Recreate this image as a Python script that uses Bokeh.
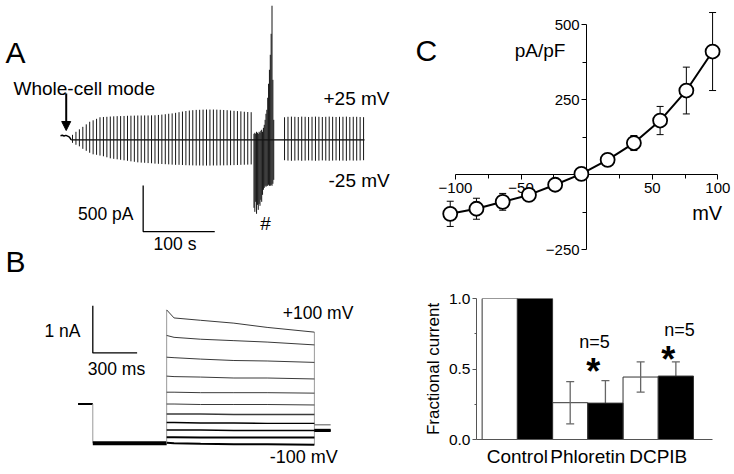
from bokeh.plotting import figure
from bokeh.layouts import row, column
from bokeh.models import (Range1d, Label, Arrow, NormalHead, Whisker, TeeHead,
                          ColumnDataSource, FixedTicker, PrintfTickFormatter)
from bokeh.embed import file_html
from bokeh.resources import INLINE

FONT = "Liberation Sans"

# ---------------- Panel A: whole-cell current during +/-25 mV pulses ----------------
pulse_interval_s = 4.8
seg1_start_s = 16.8
seg1_pos_pA = [54, 87, 114, 141, 168, 196, 212, 228, 245, 248, 250, 253, 255, 257, 258, 259,
               261, 262, 263, 264, 264, 265, 265, 266, 267, 270, 274, 278, 283, 287, 293, 300,
               307, 313, 318, 322, 325, 326, 328, 329, 329, 329, 328, 326, 324, 322, 318, 315,
               312, 309, 305, 302, 300]
seg1_neg_pA = [33, 54, 71, 98, 120, 141, 158, 163, 171, 179, 190, 201, 207, 212, 217, 223,
               228, 234, 239, 245, 248, 250, 253, 255, 259, 261, 263, 265, 267, 270, 272, 272,
               274, 276, 277, 278, 279, 279, 280, 280, 280, 279, 279, 278, 278, 277, 276, 275,
               274, 272, 271, 270, 268]
burst_start_s = 270.3
burst_interval_s = 1.2
burst_pos_pA = [65, 76, 65, 87, 76, 65, 87, 76, 98, 109, 87, 130, 163, 217, 283, 326, 457,
                609, 761, 924, 1152, 1457, 652, 217]
burst_neg_pA = [739, 783, 674, 804, 707, 761, 696, 717, 652, 674, 598, 543, 522, 500, 511,
                500, 500, 489, 500, 500, 489, 500, 478, 435]
seg2_start_s = 313.0
seg2_pos_pA = [245, 250, 252, 250, 248, 252, 250, 248, 250, 252, 250, 248, 250, 252, 250,
               248, 250, 250, 252, 248, 250, 250, 248, 246]
seg2_neg_pA = [222, 226, 228, 226, 224, 228, 226, 224, 226, 228, 226, 224, 226, 228, 226,
               224, 226, 226, 228, 224, 226, 226, 224, 222]
pre_t_s = [0, 2.5, 5, 7.5, 10, 12.5, 15]
pre_I_pA = [45, 50, 42, 48, 40, 30, 0]
trace_end_s = 424.7
arrow_t_s = 8
arrow_top_pA, arrow_tip_pA = 503, 101
scaleA_pA, scaleA_s = 500, 100
scaleA_t0, scaleA_I0 = 115.5, -997

# ---------------- Panel B: current family, -100..+100 mV ----------------
hold_ms = 100
prestep_ms = 500
test_end_ms = 1500
tail_end_ms = 1610
hold_nA = 0.01
prestep_nA = -0.82
step_mV = [-100, -80, -60, -40, -20, 0, 20, 40, 60, 80, 100]
sample_ms = [500, 550, 730, 955, 1180, 1500]
test_nA = [
    [-0.81, -0.82, -0.83, -0.84, -0.84, -0.85],
    [-0.69, -0.69, -0.70, -0.70, -0.70, -0.70],
    [-0.54, -0.54, -0.54, -0.55, -0.55, -0.55],
    [-0.38, -0.38, -0.39, -0.39, -0.40, -0.40],
    [-0.20, -0.20, -0.20, -0.21, -0.21, -0.21],
    [0.01, 0.01, 0.00, 0.00, 0.00, -0.01],
    [0.26, 0.26, 0.25, 0.25, 0.25, 0.24],
    [0.60, 0.59, 0.58, 0.56, 0.56, 0.54],
    [1.00, 0.99, 0.96, 0.93, 0.92, 0.89],
    [1.46, 1.42, 1.38, 1.35, 1.32, 1.26],
    [2.00, 1.83, 1.78, 1.72, 1.63, 1.53],
]
tail_nA = [-0.43, -0.53, -0.55, -0.56]
scaleB_nA, scaleB_ms = 1, 300
scaleB_t0, scaleB_I0 = 0, 1.09

# ---------------- Panel C: I-V relation ----------------
iv_mV = [-104, -84, -64, -44, -24, -4, 16, 36, 56, 76, 96]
iv_pApF = [-130, -113, -90, -67, -33, 3, 50, 106, 181, 281, 411]
iv_sem = [42, 35, 28, 10, 7, 5, 8, 25, 47, 78, 130]
ivx_ticks = [-100, -50, 50, 100]
ivy_ticks = [-250, 250, 500]

# ---------------- Panel D: fractional current ----------------
groups = ["Control", "Phloretin", "DCPIB"]
white_frac = [1.0, 0.261, 0.443]
black_frac = [1.0, 0.258, 0.450]
white_err = [0.0, 0.15, 0.107]
black_err = [0.0, 0.16, 0.10]
n_label = ["", "n=5", "n=5"]
signif = ["", "*", "*"]

# pixel <-> data mappings of each panel (used only to place annotation texts)
mapA = (lambda px: (px - 60) * 1.397, lambda py: (139.3 - py) * 10.87)
mapB = (lambda px: (px - 92.3) * 6.77, lambda py: (404 - py) / 47.3)
mapC = (lambda px: -100 + (px - 455) / 1.3117, lambda py: 500 - (py - 24.33) / 0.3)
mapD = (lambda px: (px - 476) / 70.45 - 0.58, lambda py: (439 - py) / 141.0)


def lab(p, m, px, py, text, size, align="left", bold=False, mid=None):
    ymid = py - 0.355 * size if mid is None else mid
    p.add_layout(Label(x=m[0](px), y=m[1](ymid), text=text, text_font=FONT,
                       text_font_size=f"{size}px", text_align=align, text_baseline="middle",
                       text_color="black", text_font_style="bold" if bold else "normal"))


def no_align(p):
    try:
        p.frame_align = False
    except Exception:
        pass


def bare(w, h, xr, yr):
    p = figure(width=w, height=h, x_range=xr, y_range=yr, x_axis_type=None, y_axis_type=None,
               output_backend="svg", toolbar_location=None, min_border=0,
               min_border_left=0, min_border_right=0, min_border_top=0, min_border_bottom=0)
    p.outline_line_color = None
    no_align(p)
    return p


# ---- A  (page y 0..258)
pA = bare(400, 258, Range1d(-83.8, 475.0), Range1d(-1290, 1514))
pA.line(pre_t_s, pre_I_pA, line_color="black", line_width=1.5)
pA.line([pre_t_s[-1], trace_end_s], [0, 0], line_color="black", line_width=1.2)
t1 = [seg1_start_s + k * pulse_interval_s for k in range(len(seg1_pos_pA))]
tb = [burst_start_s + k * burst_interval_s for k in range(len(burst_pos_pA))]
t2 = [seg2_start_s + k * pulse_interval_s for k in range(len(seg2_pos_pA))]
tt = t1 + tb + t2
pos = seg1_pos_pA + burst_pos_pA + seg2_pos_pA
neg = [-v for v in seg1_neg_pA + burst_neg_pA + seg2_neg_pA]
pA.segment(x0=tt, y0=neg, x1=tt, y1=pos, line_color="#151515", line_width=1)
pA.add_layout(Arrow(end=NormalHead(size=9, fill_color="black", line_color="black"),
                    x_start=arrow_t_s, y_start=arrow_top_pA, x_end=arrow_t_s, y_end=arrow_tip_pA,
                    line_color="black", line_width=2))
pA.line([scaleA_t0, scaleA_t0, scaleA_t0 + scaleA_s],
        [scaleA_I0 + scaleA_pA, scaleA_I0, scaleA_I0], line_color="black", line_width=1.3)
lab(pA, mapA, 5, 63, "A", 30)
lab(pA, mapA, 13, 95, "Whole-cell mode", 19)
lab(pA, mapA, 323, 105, "+25 mV", 19)
lab(pA, mapA, 328, 186.7, "-25 mV", 19)
lab(pA, mapA, 133, 220, "500 pA", 17.5, align="right")
lab(pA, mapA, 174.5, 250, "100 s", 17.5, align="center")
lab(pA, mapA, 265, 230, "#", 19, align="center")

# ---- B  (page y 243..474, overlapping A by 15 px, transparent)
pB = bare(400, 231, Range1d(-624.9, 2083), Range1d(-1.480, 3.404))
pB.background_fill_color = None
pB.border_fill_color = None
pB.margin = (-15, 0, 0, 0)
pB.line([-hold_ms, 0], [hold_nA, hold_nA], line_color="black", line_width=2)
pB.line([0, 0], [hold_nA, prestep_nA], line_color="#999999", line_width=1)
pB.line([0, prestep_ms], [prestep_nA, prestep_nA], line_color="black", line_width=4)
top_vals = [r[0] for r in test_nA]
end_vals = [r[-1] for r in test_nA]
pB.line([prestep_ms, prestep_ms], [min(top_vals + [prestep_nA]), max(top_vals)],
        line_color="#9a9a9a", line_width=1)
pB.line([test_end_ms, test_end_ms], [min(end_vals), max(end_vals)],
        line_color="#9a9a9a", line_width=1)
xs = [sample_ms for _ in test_nA]
colors = ["black" if v <= -40 else "#3a3a3a" for v in step_mV]
widths = [2 if v <= -80 else (1.4 if v <= -20 else 1) for v in step_mV]
pB.multi_line(xs=xs, ys=test_nA, line_color=colors, line_width=widths)
pB.multi_line(xs=[[test_end_ms, tail_end_ms] for _ in tail_nA],
              ys=[[v, v] for v in tail_nA],
              line_color=["#555555", "black", "black", "black"], line_width=[1, 1.5, 2, 2])
pB.line([scaleB_t0, scaleB_t0, scaleB_t0 + scaleB_ms],
        [scaleB_I0 + scaleB_nA, scaleB_I0, scaleB_I0], line_color="black", line_width=1.3)
lab(pB, mapB, 5, 272, "B", 30)
lab(pB, mapB, 80, 336.7, "1 nA", 17.5, align="right")
lab(pB, mapB, 87.3, 375, "300 ms", 17.5)
lab(pB, mapB, 282.3, 318.3, "+100 mV", 17.5)
lab(pB, mapB, 269.3, 462.7, "-100 mV", 18)

# ---- C  (page y 0..262)
pC = figure(width=334, height=262, x_range=Range1d(-141.9, 112.7), y_range=Range1d(-292.2, 581.1),
            output_backend="svg", toolbar_location=None, min_border=0,
            min_border_left=0, min_border_right=0, min_border_top=0, min_border_bottom=0)
no_align(pC)
pC.outline_line_color = None
pC.grid.visible = False
for ax in (pC.xaxis[0], pC.yaxis[0]):
    ax.fixed_location = 0
    ax.axis_line_color = "black"
    ax.axis_line_width = 1
    ax.major_tick_line_color = "black"
    ax.minor_tick_line_color = "black"
    ax.major_tick_in = 0
    ax.minor_tick_in = 0
    ax.major_tick_out = 5
    ax.minor_tick_out = 4
    ax.major_label_text_font = FONT
    ax.major_label_text_font_size = "15px"
    ax.major_label_text_color = "black"
pC.xaxis[0].bounds = (-100, 100)
pC.yaxis[0].bounds = (-250, 500)
pC.xaxis[0].ticker = FixedTicker(ticks=ivx_ticks, minor_ticks=[-75, -25, 25, 75])
pC.yaxis[0].ticker = FixedTicker(ticks=ivy_ticks, minor_ticks=[-125, 125, 375])
pC.xaxis[0].major_label_standoff = 3
pC.yaxis[0].major_label_standoff = 2
srcC = ColumnDataSource(dict(v=iv_mV, c=iv_pApF,
                             up=[c + e for c, e in zip(iv_pApF, iv_sem)],
                             lo=[c - e for c, e in zip(iv_pApF, iv_sem)]))
pC.add_layout(Whisker(source=srcC, base="v", upper="up", lower="lo", dimension="height",
                      line_color="black", line_width=1,
                      upper_head=TeeHead(size=7, line_color="black", line_width=1),
                      lower_head=TeeHead(size=7, line_color="black", line_width=1)))
rl = pC.line("v", "c", source=srcC, line_color="black", line_width=2)
rs = pC.scatter("v", "c", source=srcC, marker="circle", size=14, fill_color="white",
                line_color="black", line_width=1.8)
rl.level = "overlay"
rs.level = "overlay"
lab(pC, mapC, 415, 61, "C", 30)
lab(pC, mapC, 514.3, 57, "pA/pF", 19)
lab(pC, mapC, 691.7, 219.3, "mV", 20)

# ---- D  (page y 245..474, overlapping C by 17 px, transparent)
pD = figure(width=334, height=229, x_range=Range1d(-0.58, 2.77), y_range=Range1d(0, 1.0),
            output_backend="svg", toolbar_location=None,
            min_border_left=76, min_border_right=22, min_border_top=53, min_border_bottom=35)
no_align(pD)
pD.background_fill_color = None
pD.border_fill_color = None
pD.margin = (-17, 0, 0, 0)
pD.outline_line_color = None
pD.grid.visible = False
idx = list(range(len(groups)))
srcD = ColumnDataSource(dict(i=idx, xw=[i - 0.25 for i in idx], xb=[i + 0.25 for i in idx],
                             w=white_frac, b=black_frac))
pD.vbar(x="xw", top="w", width=0.5, source=srcD, fill_color="white", line_color="#333333",
        line_width=1)
pD.vbar(x="xb", top="b", width=0.5, source=srcD, fill_color="black", line_color="#333333",
        line_width=1)
sel = [i for i in idx if white_err[i] > 0]
srcW = ColumnDataSource(dict(x=[i - 0.25 for i in sel],
                             up=[white_frac[i] + white_err[i] for i in sel],
                             lo=[white_frac[i] - white_err[i] for i in sel]))
srcK = ColumnDataSource(dict(x=[i + 0.25 for i in sel],
                             up=[black_frac[i] + black_err[i] for i in sel],
                             lo=[black_frac[i] - black_err[i] for i in sel]))
pD.add_layout(Whisker(source=srcW, base="x", upper="up", lower="lo", level="annotation",
                      line_color="#666666", line_width=1.3,
                      upper_head=TeeHead(size=8, line_color="#666666", line_width=1.3),
                      lower_head=TeeHead(size=8, line_color="#666666", line_width=1.3)))
pD.add_layout(Whisker(source=srcK, base="x", upper="up", lower="lo", level="underlay",
                      line_color="#666666", line_width=1.3,
                      upper_head=TeeHead(size=8, line_color="#666666", line_width=1.3),
                      lower_head=TeeHead(size=8, line_color="#666666", line_width=1.3)))
pD.xaxis.ticker = FixedTicker(ticks=idx)
pD.xaxis.major_label_overrides = {i: g for i, g in zip(idx, groups)}
pD.xaxis.major_tick_out = 0
pD.xaxis.major_tick_in = 0
pD.xaxis.major_label_standoff = 6
pD.xaxis.major_label_text_font_size = "19px"
pD.yaxis.ticker = FixedTicker(ticks=[0, 0.5, 1.0], minor_ticks=[0.25, 0.75])
pD.yaxis.formatter = PrintfTickFormatter(format="%.1f")
pD.yaxis.major_tick_out = 4
pD.yaxis.major_tick_in = 0
pD.yaxis.minor_tick_out = 2
pD.yaxis.minor_tick_in = 0
pD.yaxis.major_label_standoff = 2
pD.yaxis.major_label_text_font_size = "15.5px"
pD.yaxis.axis_label = "Fractional current"
pD.yaxis.axis_label_text_font = FONT
pD.yaxis.axis_label_text_font_size = "17px"
pD.yaxis.axis_label_text_font_style = "normal"
pD.yaxis.axis_label_text_color = "black"
pD.yaxis.axis_label_standoff = 3
for ax in (pD.xaxis[0], pD.yaxis[0]):
    ax.axis_line_color = "#555555"
    ax.major_tick_line_color = "#555555"
    ax.minor_tick_line_color = "#555555"
    ax.major_label_text_font = FONT
    ax.major_label_text_color = "black"
pD.xaxis.minor_tick_line_color = None
star_px = [(592.7, 371), (667.7, 359)]
n_px = [(594, 348.3), (679, 335.7)]
for k, i in enumerate(sel):
    lab(pD, mapD, star_px[k][0], 0, signif[i], 36, align="center", bold=True, mid=star_px[k][1])
    lab(pD, mapD, n_px[k][0], n_px[k][1], n_label[i], 18, align="center")
lab(pD, mapD, 415, 273.3, "D", 30)

layout = row(column(pA, pB), column(pC, pD))
open("out.html", "w").write(file_html(layout, INLINE))
